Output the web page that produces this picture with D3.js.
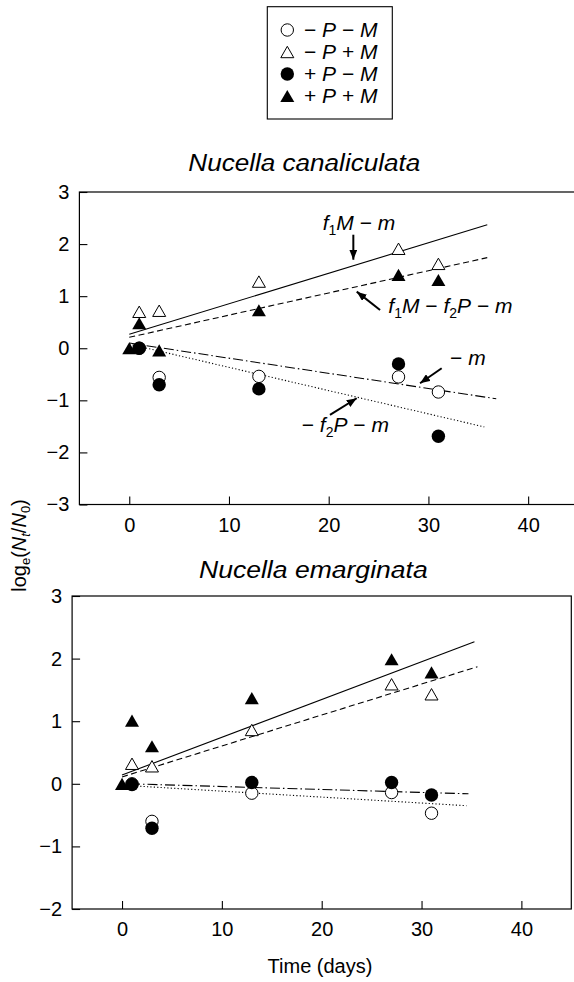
<!DOCTYPE html>
<html><head><meta charset="utf-8">
<script src="https://cdn.jsdelivr.net/npm/d3@7"></script>
<style>
body{margin:0;background:#fff}
svg{display:block}
text{font-family:"Liberation Sans",Arial,Helvetica,sans-serif;fill:#000}
</style></head><body>
<script>
// ---------- data ----------
const days = [0, 1, 3, 13, 27, 31];
const legendLabels = ["− P − M", "− P + M", "+ P − M", "+ P + M"];
const seriesSymbols = ["openCircle", "openTriangle", "filledCircle", "filledTriangle"];
const yTicksTop = [-3, -2, -1, 0, 1, 2, 3];
const yTicksBottom = [-2, -1, 0, 1, 2, 3];
const xTicks = [0, 10, 20, 30, 40];

// Nucella canaliculata (null = point hidden under the shared day-0 start)
const canaMinusPMinusM = [null, 0, -0.56, -0.54, -0.55, -0.84];
const canaMinusPPlusM  = [null, 0.70, 0.72, 1.28, 1.91, 1.62];
const canaPlusPMinusM  = [null, 0, -0.70, -0.78, -0.30, -1.69];
const canaPlusPPlusM   = [0, 0.48, -0.04, 0.73, 1.41, 1.31];
// fitted lines: solid (−P+M), dashed (+P+M), dash-dot (−P−M), dotted (+P−M)
const canaFitStartDay = [0, 0, 0, 0];
const canaFitStartVal = [0.27, 0.21, 0.10, 0.08];
const canaFitEndDay   = [35.9, 35.9, 36.8, 35.6];
const canaFitEndVal   = [2.37, 1.74, -0.97, -1.51];

// Nucella emarginata
const emarMinusPMinusM = [null, 0, -0.60, -0.15, -0.14, -0.47];
const emarMinusPPlusM  = [null, 0.32, 0.28, 0.86, 1.59, 1.43];
const emarPlusPMinusM  = [null, -0.01, -0.71, 0.02, 0.02, -0.18];
const emarPlusPPlusM   = [0, 1.01, 0.60, 1.37, 1.99, 1.78];
const emarFitStartDay = [0, 0, 0.8, 0.8];
const emarFitStartVal = [0.14, 0.11, 0.0, -0.03];
const emarFitEndDay   = [35.3, 35.6, 34.7, 34.5];
const emarFitEndVal   = [2.27, 1.87, -0.16, -0.35];

const fitStyles = ["none", "6,3.5", "10,3,1.5,3", "1.2,2.2"];

// ---------- layout ----------
const W = 574, H = 982;
const svg = d3.select("body").append("svg").attr("width", W).attr("height", H);

const defs = svg.append("defs");
defs.append("marker").attr("id", "ah").attr("markerUnits", "userSpaceOnUse")
  .attr("viewBox", "0 0 10 8").attr("refX", 10).attr("refY", 4)
  .attr("markerWidth", 10).attr("markerHeight", 8).attr("orient", "auto")
  .append("path").attr("d", "M0,0L10,4L0,8Z").attr("fill", "#000");

function triPath(w, h) {
  return `M0,${-h/2}L${w/2},${h/2}L${-w/2},${h/2}Z`;
}
function drawSymbol(g, kind, x, y) {
  if (kind === "openCircle") {
    g.append("circle").attr("cx", x).attr("cy", y).attr("r", 6.2).attr("fill", "#fff").attr("stroke", "#000").attr("stroke-width", 1);
  } else if (kind === "filledCircle") {
    g.append("circle").attr("cx", x).attr("cy", y).attr("r", 6.7).attr("fill", "#000");
  } else if (kind === "openTriangle") {
    g.append("path").attr("d", triPath(13, 11.4)).attr("transform", `translate(${x},${y})`).attr("fill", "#fff").attr("stroke", "#000").attr("stroke-width", 1);
  } else {
    g.append("path").attr("d", triPath(14, 12.2)).attr("transform", `translate(${x},${y})`).attr("fill", "#000");
  }
}

function panel(cfg) {
  const x = d3.scaleLinear().domain([-5, 45]).range(cfg.xr);
  const y = d3.scaleLinear().domain(cfg.ydom).range(cfg.yr);
  const g = svg.append("g");

  g.append("rect").attr("x", cfg.xr[0]).attr("y", cfg.yr[1])
    .attr("width", cfg.xr[1] - cfg.xr[0]).attr("height", cfg.yr[0] - cfg.yr[1])
    .attr("fill", "none").attr("stroke", "#000").attr("stroke-width", 1.2);

  const ya = g.append("g").attr("transform", `translate(${cfg.xr[0]},0)`)
    .call(d3.axisLeft(y).tickValues(cfg.yticks).tickFormat(d3.format("d")).tickSizeInner(-8).tickSizeOuter(0).tickPadding(10));
  const xa = g.append("g").attr("transform", `translate(0,${cfg.yr[0]})`)
    .call(d3.axisBottom(x).tickValues(xTicks).tickFormat(d3.format("d")).tickSizeInner(-8).tickSizeOuter(0).tickPadding(13));
  [ya, xa].forEach(a => {
    a.select(".domain").remove();
    a.selectAll("line").attr("stroke", "#000").attr("stroke-width", 1.1);
    a.selectAll("text").attr("font-size", 20).attr("font-family", "Liberation Sans, Arial, sans-serif").attr("fill", "#000");
  });

  g.append("text").attr("x", cfg.titleX).attr("y", cfg.titleY).attr("font-size", 24.5)
    .attr("font-style", "italic").attr("textLength", cfg.titleLen).attr("lengthAdjust", "spacingAndGlyphs")
    .text(cfg.title);

  for (let i = 0; i < 4; i++) {
    const ln = g.append("line")
      .attr("x1", x(cfg.fit.sd[i])).attr("y1", y(cfg.fit.sv[i]))
      .attr("x2", x(cfg.fit.ed[i])).attr("y2", y(cfg.fit.ev[i]))
      .attr("stroke", "#000").attr("stroke-width", 1.1);
    if (fitStyles[i] !== "none") ln.attr("stroke-dasharray", fitStyles[i]);
  }

  cfg.series.forEach((vals, si) => {
    vals.forEach((v, di) => { if (v !== null) drawSymbol(g, seriesSymbols[si], x(days[di]), y(v)); });
  });

  (cfg.annots || []).forEach(a => {
    const t = g.append("text").attr("x", x(a.tx)).attr("y", y(a.ty)).attr("font-size", 21);
    a.parts.forEach(p => {
      const ts = t.append("tspan").text(p[0]);
      if (p[1] === "i") ts.attr("font-style", "italic");
      if (p[1] === "sub") ts.attr("font-size", 14).attr("dy", 5);
      if (p[2] === "up") ts.attr("dy", -5);
    });
    g.append("line").attr("x1", x(a.ax1)).attr("y1", y(a.ay1)).attr("x2", x(a.ax2)).attr("y2", y(a.ay2))
      .attr("stroke", "#000").attr("stroke-width", 2).attr("marker-end", "url(#ah)");
  });
}

panel({
  xr: [79.4, 578], ydom: [-3, 3], yr: [504.5, 192], yticks: yTicksTop,
  title: "Nucella canaliculata", titleX: 188.3, titleY: 170.7, titleLen: 232,
  series: [canaMinusPMinusM, canaMinusPPlusM, canaPlusPMinusM, canaPlusPPlusM],
  fit: {sd: canaFitStartDay, sv: canaFitStartVal, ed: canaFitEndDay, ev: canaFitEndVal},
  annots: [
    {tx: 19.4, ty: 2.27, ax1: 22.47, ay1: 2.18, ax2: 22.47, ay2: 1.70,
     parts: [["f","i"],["1","sub"],["M","i","up"],[" − "],["m","i"]]},
    {tx: 25.98, ty: 0.67, ax1: 25.15, ay1: 0.735, ax2: 22.81, ay2: 1.087,
     parts: [["f","i"],["1","sub"],["M","i","up"],[" − "],["f","i"],["2","sub"],["P","i","up"],[" − "],["m","i"]]},
    {tx: 32.17, ty: -0.32, ax1: 31.33, ay1: -0.384, ax2: 29.16, ay2: -0.672,
     parts: [["− "],["m","i"]]},
    {tx: 17.29, ty: -1.60, ax1: 20.13, ay1: -1.28, ax2: 22.81, ay2: -0.96,
     parts: [["− "],["f","i"],["2","sub"],["P","i","up"],[" − "],["m","i"]]}
  ]
});

panel({
  xr: [72.1, 571.3], ydom: [-2, 3], yr: [909, 596], yticks: yTicksBottom,
  title: "Nucella emarginata", titleX: 199, titleY: 578.3, titleLen: 228.7,
  series: [emarMinusPMinusM, emarMinusPPlusM, emarPlusPMinusM, emarPlusPPlusM],
  fit: {sd: emarFitStartDay, sv: emarFitStartVal, ed: emarFitEndDay, ev: emarFitEndVal}
});

svg.append("text").attr("x", 320).attr("y", 973).attr("text-anchor", "middle").attr("font-size", 20).text("Time (days)");
const yl = svg.append("text").attr("transform", "translate(26,545.5) rotate(-90)").attr("text-anchor", "middle").attr("font-size", 20);
yl.append("tspan").text("log");
yl.append("tspan").text("e").attr("font-size", 13).attr("dy", 4);
yl.append("tspan").text("(").attr("dy", -4);
yl.append("tspan").text("N").attr("font-style", "italic");
yl.append("tspan").text("t").attr("font-style", "italic").attr("font-size", 13).attr("dy", 4);
yl.append("tspan").text("/").attr("dy", -4);
yl.append("tspan").text("N").attr("font-style", "italic");
yl.append("tspan").text("0").attr("font-size", 13).attr("dy", 4);
yl.append("tspan").text(")").attr("dy", -4);

const lg = svg.append("g");
lg.append("rect").attr("x", 267.3).attr("y", 6.7).attr("width", 125).attr("height", 112.3)
  .attr("fill", "#fff").attr("stroke", "#000").attr("stroke-width", 1.1);
const legY = d3.scalePoint().domain(legendLabels).range([37, 103]);
legendLabels.forEach((lab, i) => {
  drawSymbol(lg, seriesSymbols[i], 287.3, legY(lab) - 7);
  const t = lg.append("text").attr("x", 304).attr("y", legY(lab)).attr("font-size", 21);
  const parts = lab.split(" ");
  t.append("tspan").text(parts[0] + " ");
  t.append("tspan").text(parts[1]).attr("font-style", "italic");
  t.append("tspan").text(" " + parts[2] + " ");
  t.append("tspan").text(parts[3]).attr("font-style", "italic");
});
</script>
</body></html>
